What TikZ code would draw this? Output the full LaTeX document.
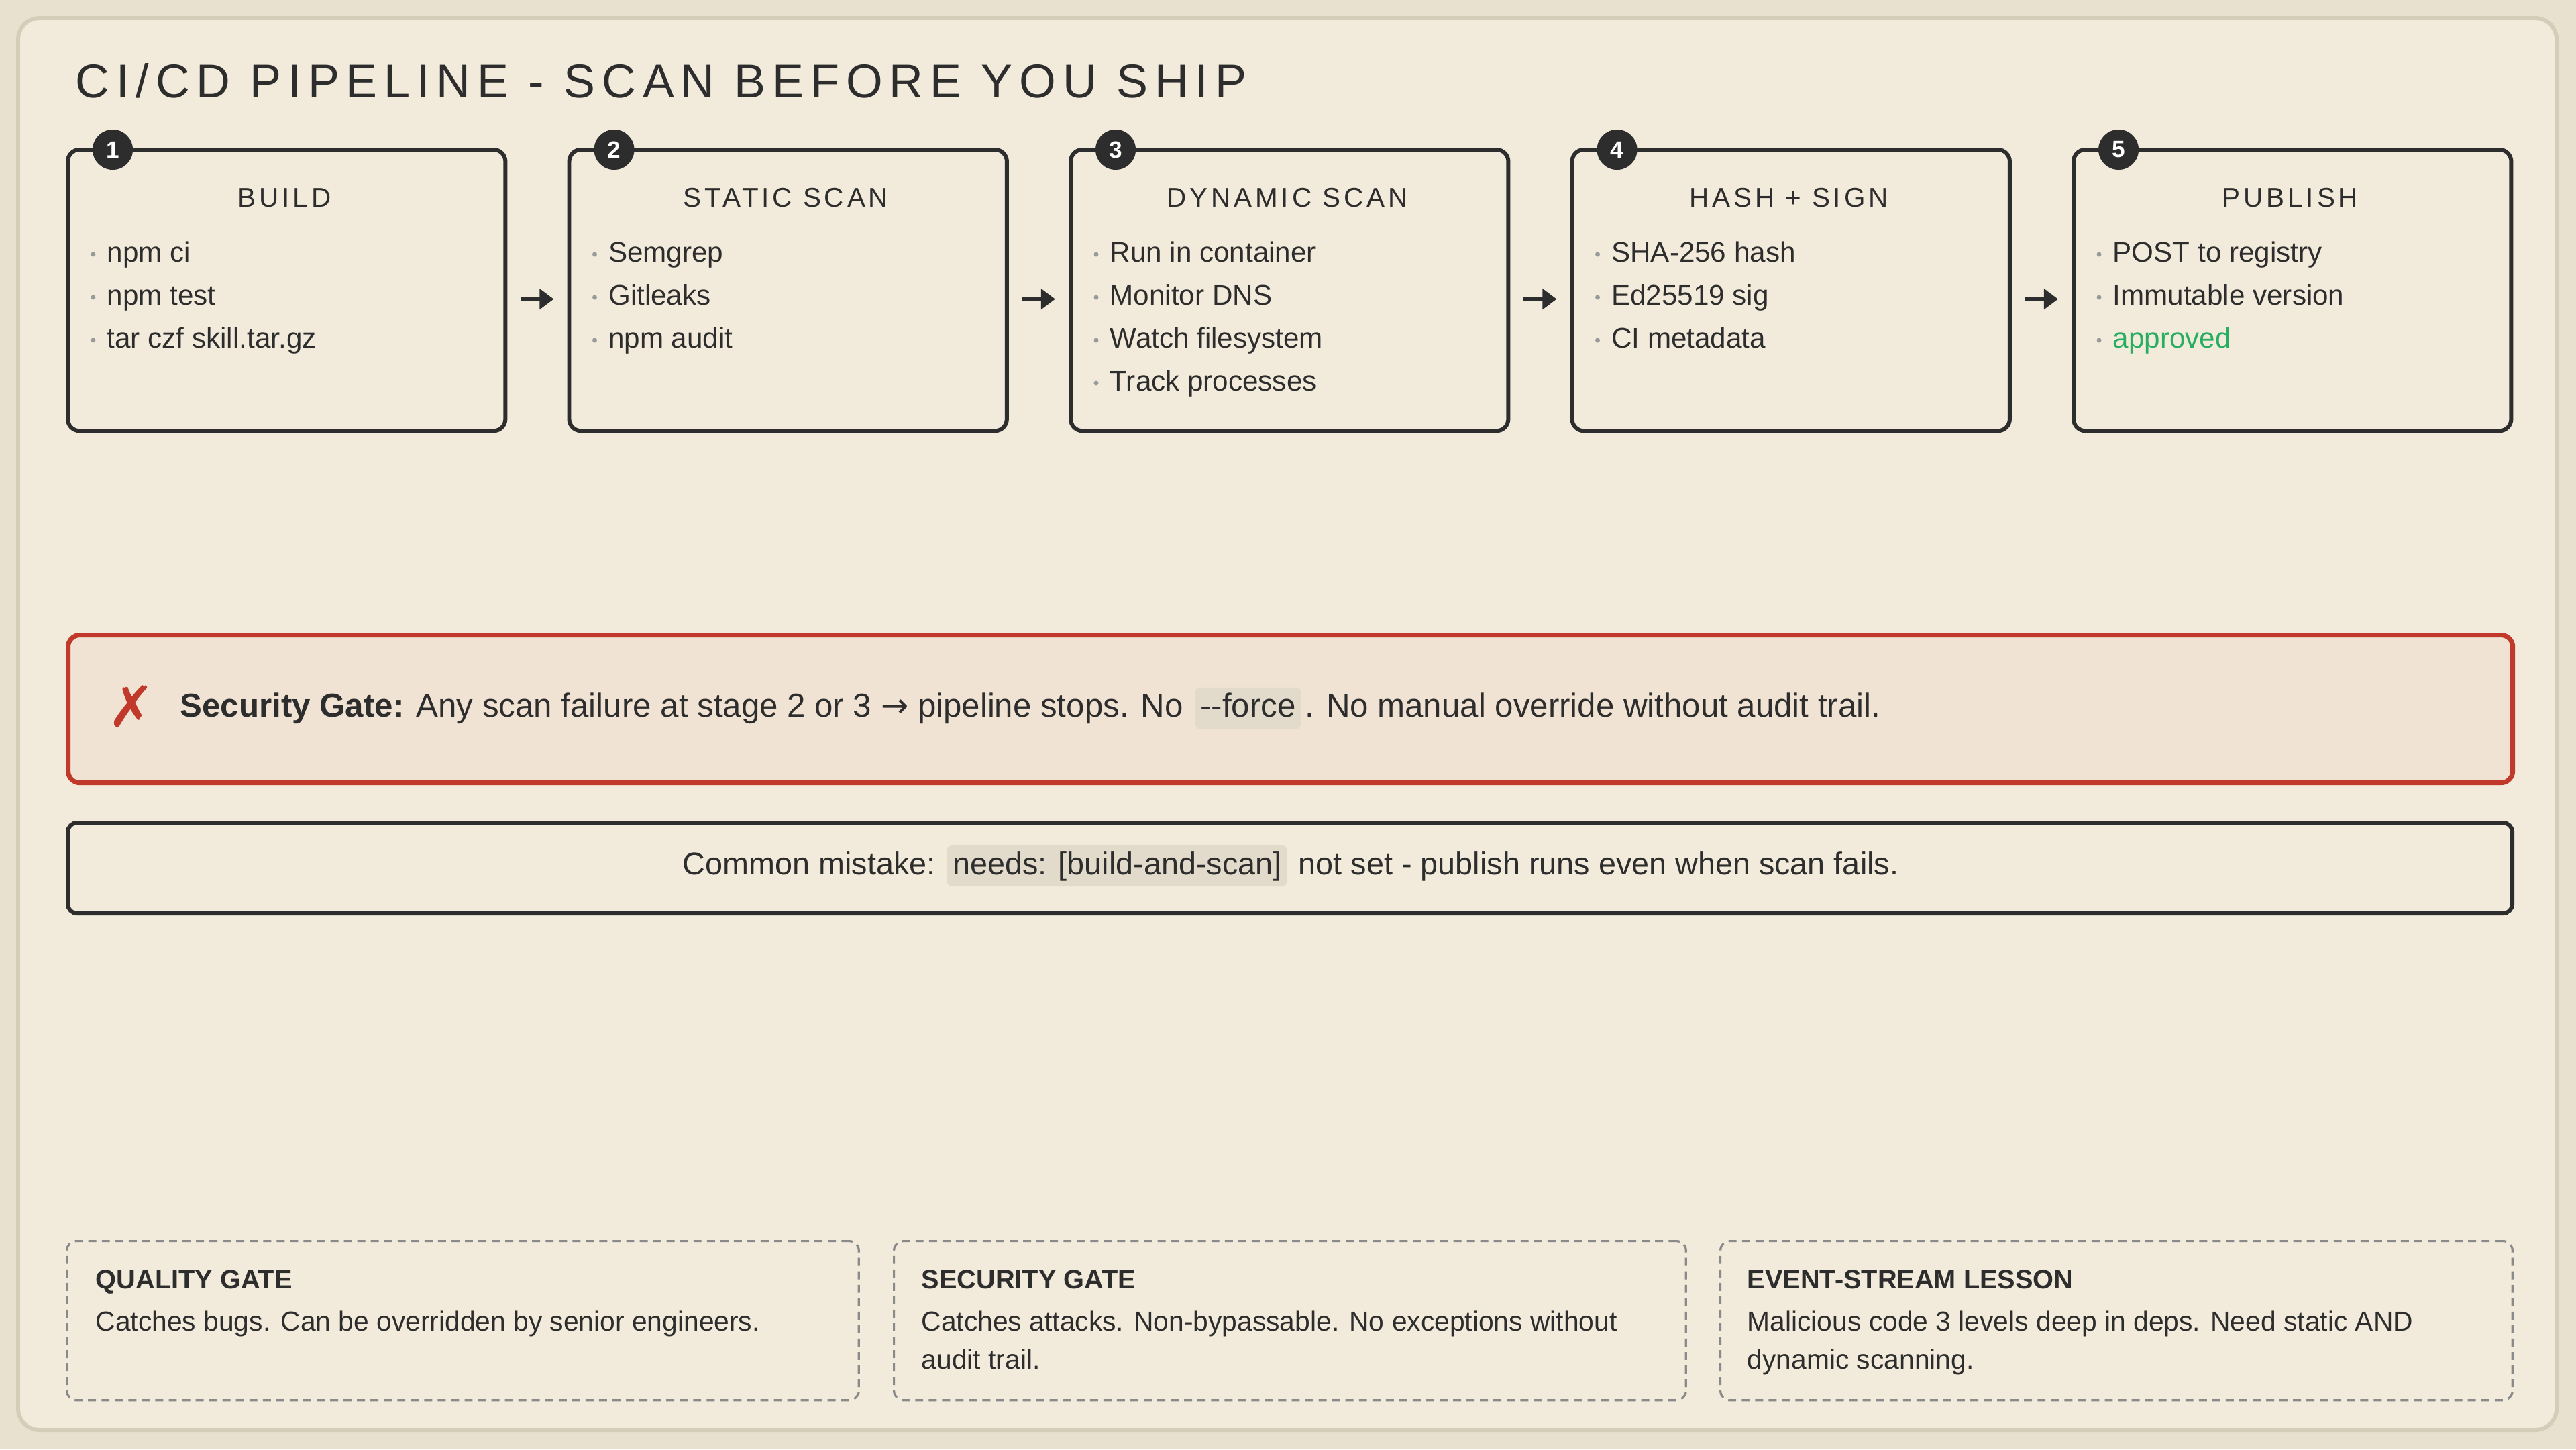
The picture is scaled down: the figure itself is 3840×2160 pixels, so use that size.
\documentclass[tikz,border=0pt]{standalone}
\usepackage{fontspec}
\setmainfont{Liberation Sans}
\newfontfamily\symfont{DejaVu Sans}
\usetikzlibrary{arrows.meta}
\definecolor{ink}{HTML}{2D2D2D}
\definecolor{paper}{HTML}{F2EBDB}
\definecolor{outerbg}{HTML}{E9E1CF}
\definecolor{framec}{HTML}{D6CDB9}
\definecolor{gatered}{HTML}{C0392B}
\definecolor{gatefill}{HTML}{F0E3D3}
\definecolor{codebg}{HTML}{E2DACA}
\definecolor{okgreen}{HTML}{27AE60}
\definecolor{dashgray}{HTML}{8A8A8A}
\definecolor{dotgray}{HTML}{9A9A9A}
\tikzset{
  stagebox/.style={draw=ink, line width=1.7pt, rounded corners=5pt, minimum width=6.52cm, minimum height=4.19cm, anchor=north west, inner sep=0pt},
  numcirc/.style={circle, fill=ink, text=white, minimum size=0.6cm, inner sep=0pt, font=\bfseries\fontsize{10}{12}\selectfont},
  stagetitle/.style={anchor=base, text=ink, inner sep=0pt, font=\addfontfeatures{LetterSpace=12}\fontsize{11.5}{14}\selectfont},
  bullettext/.style={anchor=base west, text=ink, inner sep=0pt, font=\fontsize{12}{14}\selectfont},
  bulletdot/.style={circle, fill=dotgray, minimum size=0.07cm, inner sep=0pt},
  flowarrow/.style={draw=ink, line width=1.7pt, -{Triangle[length=6pt,width=8.5pt]}},
  gatebox/.style={draw=gatered, fill=gatefill, line width=2pt, rounded corners=5pt, minimum width=36.42cm, minimum height=2.2cm, anchor=north west, inner sep=0pt},
  mistakebox/.style={draw=ink, line width=1.7pt, rounded corners=4pt, minimum width=36.42cm, minimum height=1.35cm, anchor=north west, inner sep=0pt},
  gatetext/.style={anchor=base west, text=ink, inner sep=0pt, font=\fontsize{14}{16}\selectfont},
  mistaketext/.style={anchor=base west, text=ink, inner sep=0pt, font=\fontsize{13.3}{16}\selectfont},
  codebox/.style={anchor=base west, fill=codebg, text=ink, rounded corners=2pt, inner xsep=0.08cm, inner ysep=0pt, text height=0.43cm, text depth=0.18cm},
  notebox/.style={draw=dashgray, line width=0.9pt, dash pattern=on 3.4pt off 2.3pt, rounded corners=4pt, minimum width=11.8cm, minimum height=2.37cm, anchor=north west, inner sep=0pt},
  notetitle/.style={anchor=base west, text=ink, inner sep=0pt, font=\bfseries\fontsize{11.3}{13}\selectfont},
  notebody/.style={anchor=base west, text=ink, inner sep=0pt, font=\fontsize{11.6}{14}\selectfont},
}
\begin{document}
\begin{tikzpicture}[x=0.01cm,y=-0.01cm]
\useasboundingbox (0,0) rectangle (3840,2160);
\fill[outerbg] (0,0) rectangle (3840,2160);
\draw[framec, fill=paper, line width=1.7pt, rounded corners=9pt] (27,27) rectangle (3811,2131);

% title
\node[anchor=base west, text=ink, inner sep=0pt, font=\addfontfeatures{LetterSpace=14}\fontsize{20}{24}\selectfont] (title) at (112,145) {CI/CD PIPELINE - SCAN BEFORE YOU SHIP};

% stages
\foreach \i/\t/\items in {
  1/BUILD/{npm ci,npm test,tar czf skill.tar.gz},
  2/STATIC SCAN/{Semgrep,Gitleaks,npm audit},
  3/DYNAMIC SCAN/{Run in container,Monitor DNS,Watch filesystem,Track processes},
  4/HASH + SIGN/{SHA-256 hash,Ed25519 sig,CI metadata},
  5/PUBLISH/{POST to registry,Immutable version,\textcolor{okgreen}{approved}}} {
  \pgfmathsetmacro{\bx}{98+(\i-1)*747.5}
  \node[stagebox] (s\i) at (\bx,220) {};
  \node[numcirc] (n\i) at ([xshift=0.7cm,yshift=-0.03cm]s\i.north west) {\i};
  \node[stagetitle] (t\i) at (\bx+326,308) {\t};
  \foreach \b [count=\k] in \items {
    \pgfmathsetmacro{\by}{390+(\k-1)*64}
    \node[bulletdot] (d\i-\k) at (\bx+41,\by-11) {};
    \node[bullettext] (b\i-\k) at (\bx+61,\by) {\b};
  }
}
\foreach \i [evaluate=\i as \j using int(\i+1)] in {1,2,3,4} {
  \draw[flowarrow] ([xshift=0.2cm,yshift=-0.13cm]s\i.east) -- ([xshift=-0.2cm,yshift=-0.13cm]s\j.west);
}

% security gate
\node[gatebox] (gate) at (98,943) {};
\node[text=gatered, inner sep=0pt, font=\symfont\bfseries\fontsize{24}{26}\selectfont] (xmark) at (196,1053) {✗};
\node[gatetext] (g1) at (268,1068) {\textbf{Security Gate:} Any scan failure at stage 2 or 3 {\symfont →} pipeline stops. No};
\node[codebox, font=\fontsize{14}{16}\selectfont] (g2) at ([xshift=0.16cm]g1.base east) {-{}-force};
\node[gatetext] (g3) at ([xshift=0.04cm]g2.base east) {. No manual override without audit trail.};

% common mistake
\node[mistakebox] (mist) at (98,1223) {};
\node[mistaketext] (m1) at (1017,1303) {Common mistake:};
\node[codebox, font=\fontsize{13.3}{16}\selectfont] (m2) at ([xshift=0.16cm]m1.base east) {needs: [build-and-scan]};
\node[mistaketext] (m3) at ([xshift=0.16cm]m2.base east) {not set - publish runs even when scan fails.};

% notes
\node[notebox] (q) at (98,1848) {};
\node[notetitle] (qt) at (142,1920) {QUALITY GATE};
\node[notebody] (qb) at (142,1983) {Catches bugs. Can be overridden by senior engineers.};
\node[notebox] (sg) at (1331,1848) {};
\node[notetitle] (sgt) at (1373,1920) {SECURITY GATE};
\node[notebody] (sgb1) at (1373,1983) {Catches attacks. Non-bypassable. No exceptions without};
\node[notebody] (sgb2) at (1373,2040) {audit trail.};
\node[notebox] (ev) at (2563,1848) {};
\node[notetitle] (evt) at (2604,1920) {EVENT-STREAM LESSON};
\node[notebody] (evb1) at (2604,1983) {Malicious code 3 levels deep in deps. Need static AND};
\node[notebody] (evb2) at (2604,2040) {dynamic scanning.};
\end{tikzpicture}
\end{document}
